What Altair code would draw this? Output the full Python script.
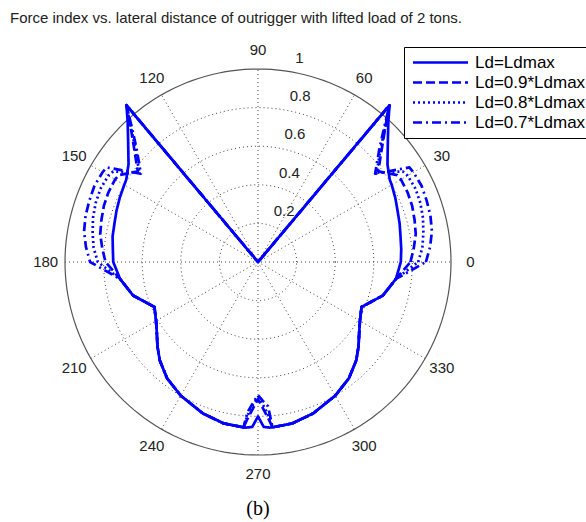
import altair as alt
import pandas as pd

# ---------------- data ----------------
THETA = [0, 5, 10, 15, 20, 25, 30, 32, 37, 43, 47, 50, 50.5,
         129.5, 130, 133, 137, 143, 148, 150, 155, 160, 165, 170, 175, 180,
         187, 195, 203.5, 210, 215, 220, 225, 232, 240, 250, 258, 265, 266,
         268, 270, 272, 274, 275, 282, 290, 300, 308, 315, 320, 325, 330,
         336.5, 345, 353, 360]

R_LDMAX = [0.74, 0.745, 0.75, 0.76, 0.77, 0.785, 0.80, 0.805, 0.84, 0.92, 0.99, 1.06, 0.0,
           0.0, 1.06, 0.99, 0.92, 0.84, 0.805, 0.80, 0.79, 0.78, 0.77, 0.765, 0.755, 0.75,
           0.72, 0.67, 0.585, 0.61, 0.64, 0.68, 0.72, 0.765, 0.80, 0.835, 0.855, 0.86, 0.86,
           0.855, 0.80, 0.855, 0.86, 0.86, 0.855, 0.835, 0.80, 0.765, 0.72, 0.68, 0.64, 0.61,
           0.585, 0.67, 0.72, 0.74]

R_09 = [0.79, 0.81, 0.83, 0.84, 0.85, 0.855, 0.855, 0.85, 0.78, 0.88, 0.97, 1.06, 0.0,
        0.0, 1.06, 0.97, 0.88, 0.78, 0.85, 0.855, 0.855, 0.85, 0.84, 0.83, 0.81, 0.79,
        0.72, 0.67, 0.585, 0.61, 0.64, 0.68, 0.72, 0.765, 0.80, 0.835, 0.855, 0.86, 0.82,
        0.76, 0.71, 0.76, 0.82, 0.86, 0.855, 0.835, 0.80, 0.765, 0.72, 0.68, 0.64, 0.61,
        0.585, 0.67, 0.72, 0.79]

R_08 = [0.83, 0.855, 0.87, 0.885, 0.895, 0.90, 0.895, 0.885, 0.77, 0.87, 0.97, 1.06, 0.0,
        0.0, 1.06, 0.97, 0.87, 0.77, 0.885, 0.895, 0.90, 0.895, 0.885, 0.87, 0.855, 0.83,
        0.72, 0.67, 0.585, 0.61, 0.64, 0.68, 0.72, 0.765, 0.80, 0.835, 0.855, 0.86, 0.80,
        0.74, 0.70, 0.74, 0.80, 0.86, 0.855, 0.835, 0.80, 0.765, 0.72, 0.68, 0.64, 0.61,
        0.585, 0.67, 0.72, 0.83]

R_07 = [0.87, 0.895, 0.915, 0.925, 0.93, 0.935, 0.93, 0.925, 0.76, 0.86, 0.96, 1.06, 0.0,
        0.0, 1.06, 0.96, 0.86, 0.76, 0.925, 0.93, 0.935, 0.93, 0.925, 0.915, 0.895, 0.87,
        0.72, 0.67, 0.585, 0.61, 0.64, 0.68, 0.72, 0.765, 0.80, 0.835, 0.855, 0.86, 0.78,
        0.73, 0.69, 0.72, 0.75, 0.86, 0.855, 0.835, 0.80, 0.765, 0.72, 0.68, 0.64, 0.61,
        0.585, 0.67, 0.72, 0.87]

SERIES = ["Ld=Ldmax", "Ld=0.9*Ldmax", "Ld=0.8*Ldmax", "Ld=0.7*Ldmax"]
RINGS = [0.2, 0.4, 0.6, 0.8]
SPOKES = [0, 30, 60, 90, 120, 150]
ANGLE_TICKS = [0, 30, 60, 90, 120, 150, 180, 210, 240, 270, 300, 330]
RADIAL_TICKS = [0.2, 0.4, 0.6, 0.8, 1]
TITLE = "Force index vs. lateral distance of outrigger with lifted load of 2 tons."
CAPTION = "(b)"

# ---------------- layout ----------------
W, H = 586, 522
CX, CY, RPX = 258, 262, 193
XDOM = [-CX / RPX, (W - CX) / RPX]
YDOM = [-(H - CY) / RPX, CY / RPX]
DASHES = [[1, 0], [9, 4], [2, 3], [9, 4, 2, 4]]
BLUE = "#0000ff"
FONT = "Liberation Sans"

X = alt.X("x:Q", scale=alt.Scale(domain=XDOM, nice=False, zero=False), axis=None)
Y = alt.Y("y:Q", scale=alt.Scale(domain=YDOM, nice=False, zero=False), axis=None)

to_xy = dict(x="datum.r * cos(datum.theta * PI / 180)",
             y="datum.r * sin(datum.theta * PI / 180)")

# curves
rows = []
for name, rs in zip(SERIES, [R_LDMAX, R_09, R_08, R_07]):
    for i, (t, r) in enumerate(zip(THETA, rs)):
        rows.append({"series": name, "i": i, "theta": t, "r": r})
curve_df = pd.DataFrame(rows)

# grid rings and outer circle
ring_rows = []
for rr in RINGS + [1.0]:
    for a in range(0, 361, 2):
        ring_rows.append({"ring": rr, "theta": a, "r": rr, "outer": rr == 1.0})
ring_df = pd.DataFrame(ring_rows)

spoke_df = pd.DataFrame([{"spoke": s, "theta": s, "r": e} for s in SPOKES for e in (-1, 1)])
angle_df = pd.DataFrame({"theta": ANGLE_TICKS, "r": [1.1] * len(ANGLE_TICKS),
                         "label": [str(a) for a in ANGLE_TICKS]})
rad_df = pd.DataFrame({"v": RADIAL_TICKS, "label": [f"{v:g}" for v in RADIAL_TICKS]})

rings = (alt.Chart(ring_df[~ring_df.outer]).transform_calculate(**to_xy)
         .mark_line(color="#444444", strokeWidth=1, strokeDash=[1, 3])
         .encode(X, Y, detail="ring:N", order="theta:Q"))
outer = (alt.Chart(ring_df[ring_df.outer]).transform_calculate(**to_xy)
         .mark_line(color="#555555", strokeWidth=1.2)
         .encode(X, Y, order="theta:Q"))
spokes = (alt.Chart(spoke_df).transform_calculate(**to_xy)
          .mark_line(color="#444444", strokeWidth=1, strokeDash=[1, 3])
          .encode(X, Y, detail="spoke:N", order="r:Q"))

curves = (alt.Chart(curve_df).transform_calculate(**to_xy)
          .mark_line(color=BLUE, strokeWidth=2.7, strokeJoin="round")
          .encode(X, Y, order="i:Q",
                  strokeDash=alt.StrokeDash(
                      "series:N", sort=SERIES,
                      scale=alt.Scale(domain=SERIES, range=DASHES),
                      legend=alt.Legend(
                          title=None, orient="none", legendX=404, legendY=47,
                          symbolType="M-5,0H5", symbolSize=121, symbolStrokeWidth=2.5,
                          symbolStrokeColor=BLUE, symbolFillColor="transparent",
                          labelFont=FONT, labelFontSize=17,
                          labelColor="black", strokeColor="black", fillColor="white",
                          padding=7, rowPadding=2, labelOffset=26, symbolOffset=21))))

angle_labels = (alt.Chart(angle_df).transform_calculate(**to_xy)
                .mark_text(font=FONT, fontSize=15, color="#222222", align="center", baseline="middle")
                .encode(X, Y, text="label:N"))
rad_labels = (alt.Chart(rad_df)
              .transform_calculate(x="(datum.v + 0.01) * cos(82 * PI / 180)",
                                   y="(datum.v + 0.01) * sin(82 * PI / 180)")
              .mark_text(font=FONT, fontSize=15, color="#222222", align="left", baseline="bottom",
                         dx=10, dy=-3)
              .encode(X, Y, text="label:N"))

title = (alt.Chart(pd.DataFrame({"t": [TITLE]}))
         .mark_text(font=FONT, fontSize=15, color="#222222", align="left", baseline="middle")
         .encode(x=alt.value(10), y=alt.value(18), text="t:N"))
caption = (alt.Chart(pd.DataFrame({"t": [CAPTION]}))
           .mark_text(font="Liberation Serif", fontSize=20, color="black", align="center",
                      baseline="middle")
           .encode(x=alt.value(258), y=alt.value(509), text="t:N"))

chart = (alt.layer(rings, spokes, outer, curves, angle_labels, rad_labels, title, caption)
         .properties(width=W, height=H, padding=0, autosize=alt.AutoSizeParams(type="none"))
         .configure_view(stroke=None))

chart.save("out.html", embed_options={"renderer": "svg", "actions": False})
